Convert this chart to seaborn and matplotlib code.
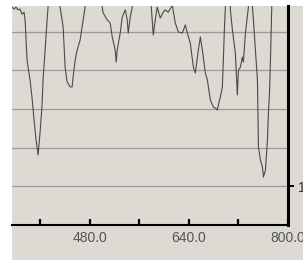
import matplotlib
matplotlib.use("Agg")
from matplotlib import pyplot as plt
from matplotlib.patches import Rectangle
import seaborn as sns
import pandas as pd

# spectrum trace (values above 5.66 run off the top)
wavelength = [354.8, 358.0, 361.2, 364.4, 367.7, 370.9, 374.1, 375.8, 379.0, 383.8,
              387.1, 390.3, 393.5, 396.8, 400.0, 403.2, 404.8, 408.1, 411.3, 412.9,
              414.5, 429.1, 432.3, 437.2, 440.4, 443.6, 448.5, 451.7, 453.3, 456.6,
              459.8, 464.6, 469.5, 472.7, 474.3, 497.0, 500.2, 501.8, 508.3, 513.1,
              516.4, 521.2, 522.8, 524.4, 529.3, 532.5, 537.4, 540.6, 542.2, 545.4,
              548.7, 550.3, 576.1, 579.4, 582.6, 585.8, 589.0, 593.9, 598.8, 602.0,
              606.8, 613.3, 618.2, 623.0, 629.5, 634.3, 637.6, 642.4, 647.3, 650.5,
              655.3, 658.6, 661.8, 666.6, 669.9, 674.7, 679.6, 682.8, 686.0, 687.6,
              690.9, 694.1, 695.7, 697.3, 699.0, 700.6, 705.4, 707.0, 710.3, 715.1,
              718.3, 720.0, 723.2, 726.4, 728.0, 731.3, 736.1, 737.7, 741.0, 742.6,
              744.2, 747.4, 750.7, 752.3, 755.5, 758.7, 760.4, 763.6, 766.8, 768.4,
              770.0, 771.7, 773.3, 774.9, 799.2]
signal = [5.63, 5.58, 5.63, 5.56, 5.58, 5.45, 5.50, 5.30, 4.26, 3.75,
          3.28, 2.71, 2.20, 1.81, 2.40, 3.10, 3.75, 4.52, 5.30, 5.63,
          6.33, 6.33, 5.63, 5.12, 4.08, 3.70, 3.57, 3.57, 3.82, 4.26,
          4.52, 4.78, 5.30, 5.63, 6.33, 6.33, 5.63, 5.48, 5.30, 5.22,
          4.86, 4.52, 4.21, 4.52, 4.96, 5.37, 5.56, 5.30, 4.96, 5.37,
          5.63, 6.33, 6.33, 5.63, 4.91, 5.30, 5.63, 5.35, 5.50, 5.56,
          5.50, 5.68, 5.22, 4.99, 4.96, 5.17, 4.96, 4.70, 4.08, 3.93,
          4.52, 4.86, 4.52, 3.93, 3.75, 3.23, 3.05, 3.02, 2.97, 3.10,
          3.31, 3.57, 4.26, 5.04, 5.63, 6.33, 6.33, 5.56, 5.04, 4.44,
          3.36, 4.00, 4.08, 4.34, 4.21, 4.96, 5.63, 6.33, 6.33, 5.63,
          5.30, 4.52, 3.75, 2.02, 1.68, 1.50, 1.24, 1.42, 2.20, 2.89,
          3.36, 4.26, 5.30, 6.33, 6.33]
x_ticks = [400, 480, 560, 640, 720, 800]
x_labels = ["", "480.0", "", "640.0", "", "800.0"]
y_grid = [1, 2, 3, 4, 5]
y_ticks = [1]
y_labels = ["1.0"]

bg = "#dcdad2"
df = pd.DataFrame({"wavelength": wavelength, "signal": signal})

fig = plt.figure(figsize=(3.03, 2.60), dpi=100, facecolor="white")
fig.add_artist(Rectangle((12 / 303, 0), 1, (260 - 6) / 260, transform=fig.transFigure,
                         facecolor=bg, edgecolor="none", zorder=-10))
ax = fig.add_axes([12 / 303, 35 / 260, 276 / 303, 219 / 260])
ax.set_zorder(1)
ax.set_facecolor(bg)

for g in y_grid:
    ax.axhline(g, color="#9c9a94", linewidth=0.9, zorder=1)

sns.lineplot(data=df, x="wavelength", y="signal", ax=ax, color="#4a4a4a",
             linewidth=0.8, estimator=None, sort=False, zorder=2)

ax.set_xlim(354.7, 800)
ax.set_ylim(0, 5.66)
ax.set_xlabel("")
ax.set_ylabel("")

ax.set_xticks(x_ticks)
ax.set_xticklabels(x_labels, fontfamily="Liberation Sans", fontsize=10, color="#555555")
ax.tick_params(axis="x", direction="in", length=4, width=1.6, color="black", pad=4)

ax.yaxis.tick_right()
ax.set_yticks(y_ticks)
ax.set_yticklabels(y_labels, fontfamily="Liberation Sans", fontsize=10, color="#333333")
ax.tick_params(axis="y", direction="out", length=4, width=1.4, color="black", pad=3)

ax.spines["top"].set_visible(False)
ax.spines["left"].set_visible(False)
ax.spines["bottom"].set_color("black")
ax.spines["bottom"].set_linewidth(1.5)
ax.spines["right"].set_color("black")
ax.spines["right"].set_linewidth(2.2)

fig.savefig("out.png", dpi=100, facecolor="white")
